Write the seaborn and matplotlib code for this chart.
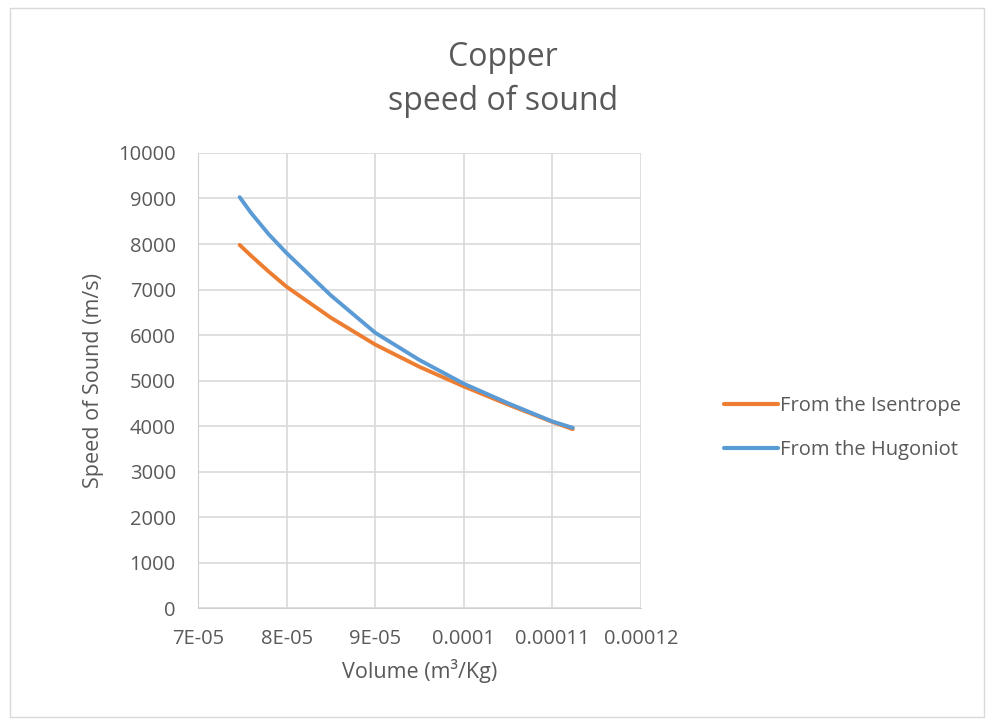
import pandas as pd
import matplotlib.pyplot as plt
import matplotlib.patches as patches
import seaborn as sns

# volume (m3/kg) and speed of sound
volume = [7.47e-05, 7.6e-05, 7.8e-05, 8.0e-05, 8.5e-05, 9.0e-05, 9.5e-05, 1.0e-04, 1.05e-04, 1.1e-04, 1.123e-04]
isentrope = [7980, 7740, 7390, 7060, 6380, 5790, 5300, 4870, 4470, 4090, 3930]
hugoniot = [9030, 8680, 8210, 7800, 6870, 6050, 5450, 4930, 4500, 4100, 3960]

xticks = [7e-05, 8e-05, 9e-05, 1e-04, 1.1e-04, 1.2e-04]
xticklabels = ["7E-05", "8E-05", "9E-05", "0.0001", "0.00011", "0.00012"]
yticks = list(range(0, 10001, 1000))

tabela = pd.DataFrame({
    "Volume": volume * 2,
    "Speed": isentrope + hugoniot,
    "Serie": ["From the Isentrope"] * len(volume) + ["From the Hugoniot"] * len(volume),
})

sns.set_style("white")
plt.rcParams["font.family"] = ["Open Sans", "DejaVu Sans"]
cinza = "#595959"

fig = plt.figure(figsize=(9.88, 7.21), dpi=100)
ax = fig.add_axes([0.2004, 0.1567, 0.4484, 0.6311])

sns.lineplot(data=tabela, x="Volume", y="Speed", hue="Serie", ax=ax,
             palette={"From the Isentrope": "#ED7D31", "From the Hugoniot": "#5B9BD5"},
             linewidth=2.8, legend=False)

ax.set_xlim(7e-05, 1.2e-04)
ax.set_ylim(0, 10000)
ax.set_xticks(xticks)
ax.set_xticklabels(xticklabels)
ax.set_yticks(yticks)
ax.grid(True, color="#D9D9D9", linewidth=1.2)
for s in ax.spines.values():
    s.set_visible(False)
ax.spines["left"].set_visible(True)
ax.spines["bottom"].set_visible(True)
ax.spines["left"].set_color("#D0D0D0")
ax.spines["bottom"].set_color("#D0D0D0")
ax.tick_params(length=0, labelsize=14.5, colors=cinza)
ax.tick_params(axis="y", pad=16)
ax.tick_params(axis="x", pad=15)
ax.set_xlabel("Volume (m³/Kg)", fontsize=15.5, color=cinza, labelpad=7)
ax.set_ylabel("Speed of Sound (m/s)", fontsize=15.5, color=cinza, labelpad=10)

fig.text(0.509, 0.920, "Copper", ha="center", va="center", fontsize=23, color=cinza)
fig.text(0.509, 0.860, "speed of sound", ha="center", va="center", fontsize=23, color=cinza)

handles = [plt.Line2D([], [], color="#ED7D31", linewidth=3),
           plt.Line2D([], [], color="#5B9BD5", linewidth=3)]
fig.legend(handles, ["From the Isentrope", "From the Hugoniot"], loc="center left",
           bbox_to_anchor=(0.714, 0.406), frameon=False, fontsize=14.5,
           handlelength=2.7, handletextpad=0.1, labelspacing=1.2, labelcolor=cinza)

fig.patches.append(patches.Rectangle((0.01, 0.005), 0.986, 0.984, transform=fig.transFigure,
                                     fill=False, edgecolor="#D9D9D9", linewidth=1))

fig.savefig("out.png", dpi=100)
